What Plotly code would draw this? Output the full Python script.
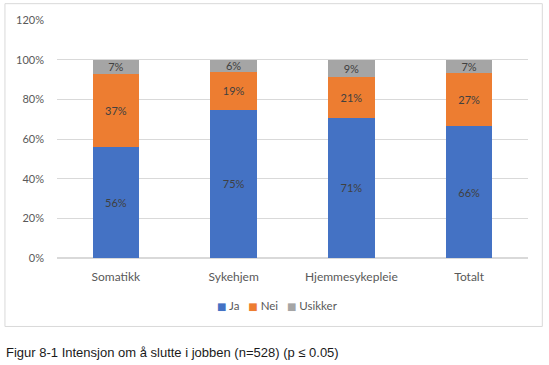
import plotly.graph_objects as go

categories = ["Somatikk", "Sykehjem", "Hjemmesykepleie", "Totalt"]
ja = [55.8, 74.7, 70.6, 66.4]
nei = [36.9, 19.2, 20.6, 26.8]
usikker = [7.3, 6.1, 8.8, 6.8]
tick_vals = [0, 20, 40, 60, 80, 100, 120]
tick_text = ["0%", "20%", "40%", "60%", "80%", "100%", "120%"]
caption = "Figur 8-1 Intensjon om å slutte i jobben (n=528) (p ≤ 0.05)"

FONT = "Lato"
series = [("Ja", ja, "#4472C4"), ("Nei", nei, "#ED7D31"), ("Usikker", usikker, "#A5A5A5")]

fig = go.Figure()
for name, vals, col in series:
    fig.add_trace(go.Bar(
        name=name, x=categories, y=vals, marker=dict(color=col, line=dict(width=0)),
        texttemplate="%{y:.0f}%", textposition="inside", insidetextanchor="middle",
        textfont=dict(family=FONT, size=11, color="#404040"),
        hoverinfo="skip", showlegend=False,
    ))

L, R, T, B = 57, 527.7, 20.3, 257.7
W, H = 549, 365
pw, ph = R - L, B - T
px = lambda x: (x - L) / pw
py = lambda y: (B - y) / ph

legend_text = "&nbsp;&nbsp;&nbsp;".join(
    f"<span style='color:{col}; font-family:DejaVu Sans; font-size:10px'>■</span> {name}"
    for name, _, col in series
)

fig.update_layout(
    width=W, height=H,
    margin=dict(l=L, r=W - R, t=T, b=H - B, pad=0),
    barmode="stack", bargap=0.604,
    paper_bgcolor="white", plot_bgcolor="white",
    font=dict(family=FONT, size=11, color="#595959"),
    uniformtext=dict(minsize=11, mode="show"),
    showlegend=False,
    xaxis=dict(showgrid=False, showline=False, ticks="", ticklabelstandoff=10,
               tickfont=dict(family=FONT, size=12, color="#595959"), fixedrange=True),
    yaxis=dict(range=[0, 120], tickvals=tick_vals, ticktext=tick_text, showgrid=True,
               gridcolor="#D9D9D9", gridwidth=1, zeroline=True, zerolinecolor="#D9D9D9",
               showline=False, ticks="", ticklabelstandoff=12,
               tickfont=dict(family=FONT, size=11, color="#595959"), fixedrange=True),
    shapes=[dict(type="rect", xref="paper", yref="paper",
                 x0=px(5), x1=px(542), y0=py(326), y1=py(4),
                 line=dict(color="#D9D9D9", width=1), fillcolor="rgba(0,0,0,0)", layer="below")],
    annotations=[
        dict(text=legend_text, xref="paper", yref="paper", x=px(215), y=py(305),
             xanchor="left", yanchor="middle", showarrow=False,
             font=dict(family=FONT, size=11.5, color="#595959")),
        dict(text=caption, xref="paper", yref="paper", x=px(4), y=py(352),
             xanchor="left", yanchor="middle", showarrow=False,
             font=dict(family="Liberation Sans", size=13, color="#1a1a1a")),
    ],
)

fig.write_html("out.html", config={"displayModeBar": False},
               post_script="document.body.style.margin='0';document.body.style.overflow='hidden';")
